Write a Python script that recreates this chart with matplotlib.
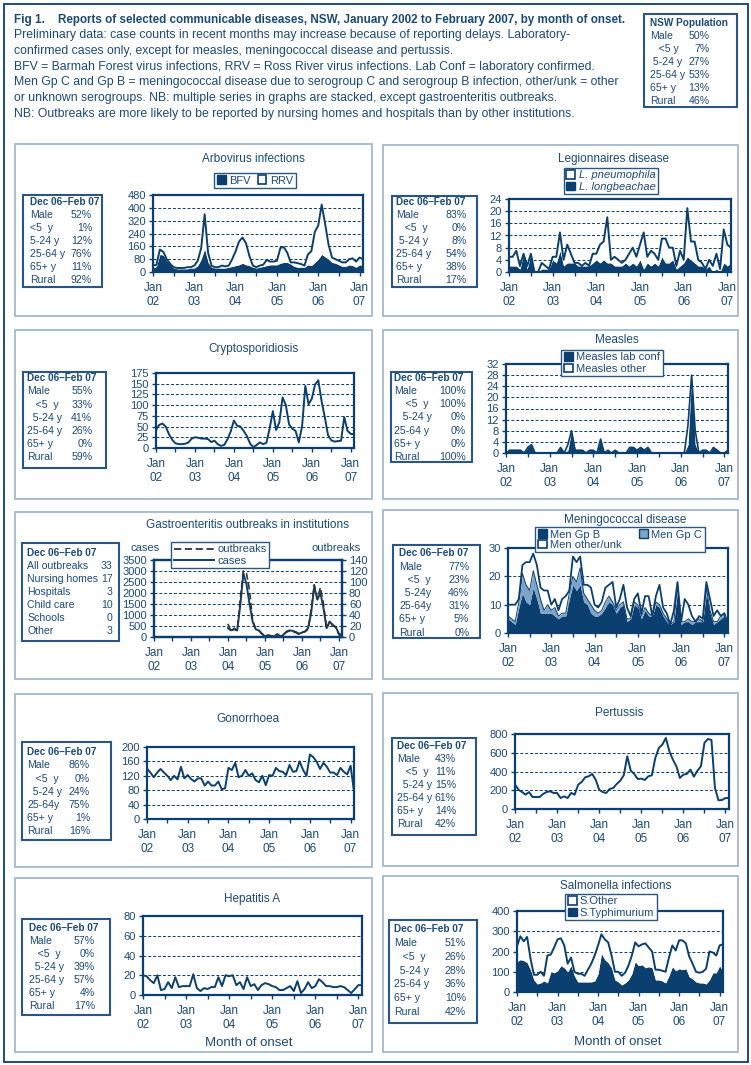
import matplotlib
matplotlib.use('Agg')
import matplotlib.pyplot as plt
import numpy as np
from matplotlib.patches import Rectangle, Patch
from matplotlib.lines import Line2D

plt.rcParams['font.family'] = ['Liberation Sans', 'DejaVu Sans']

NAVY = '#0b3f6f'
TXT = '#1c4a78'
BORDER = '#a3b8ce'
MIDBLUE = '#7da4cb'

# months Jan 2002 .. Feb 2007 (62 months)
months = np.arange(62)
years = ['02', '03', '04', '05', '06', '07']

# --- data ---
arbo_bfv = [25, 35, 110, 105, 70, 45, 25, 20, 20, 20, 20, 25, 25, 40, 80, 145, 60, 30, 25, 25,
            25, 25, 30, 35, 40, 45, 55, 45, 40, 30, 25, 30, 35, 40, 45, 45, 45, 55, 60, 60,
            50, 35, 30, 30, 30, 45, 40, 60, 80, 110, 95, 80, 60, 55, 45, 35, 35, 45, 40, 30, 45, 40]
arbo_rrv = [15, 10, 30, 20, 10, 5, 5, 5, 5, 5, 10, 5, 15, 30, 70, 215, 60, 10, 5, 5,
            15, 10, 10, 45, 90, 145, 160, 135, 60, 10, 5, 10, 10, 35, 20, 20, 25, 95, 95, 60,
            10, 25, 25, 20, 10, 65, 90, 190, 210, 310, 205, 90, 30, 25, 25, 25, 25, 35, 45, 35, 45, 40]

legio_longb = [2, 2, 2, 1, 6, 1, 6, 0, 0, 1, 1, 1, 4, 3, 7, 2, 3, 3, 3, 2,
               2, 2, 2, 3, 4, 3, 4, 3, 3, 2, 2, 2, 3, 2, 3, 2, 4, 1, 3, 2,
               3, 2, 5, 3, 3, 4, 1, 2, 3, 5, 4, 3, 2, 2, 1, 2, 0, 1, 0, 3, 2, 3]
legio_pneum = [3, 3, 5, 1, 0, 1, 0, 0, 0, 2, 1, 0, 1, 2, 6, 2, 6, 3, 0, 1,
               0, 1, 0, 3, 2, 6, 6, 15, 1, 3, 2, 1, 1, 4, 5, 3, 5, 12, 2, 5,
               3, 2, 6, 8, 5, 4, 1, 5, 1, 16, 6, 7, 2, 1, 0, 2, 2, 5, 1, 11, 7, 5]

crypto = [42, 54, 57, 50, 32, 19, 11, 9, 9, 10, 13, 22, 25, 24, 22, 22, 21, 14, 17, 9,
          5, 7, 20, 38, 64, 52, 50, 40, 28, 10, 2, 7, 13, 9, 12, 45, 86, 42, 60, 118,
          100, 55, 45, 40, 13, 50, 145, 102, 115, 148, 158, 110, 72, 30, 18, 15, 16, 17, 72, 40, 33, 32]

measles_lab = [0, 1, 1, 1, 1, 0, 2, 3, 0, 0, 0, 0, 0, 0, 0, 2, 0, 1, 8, 1,
               1, 1, 0, 1, 1, 0, 5, 0, 1, 0, 1, 0, 0, 0, 2, 2, 1, 2, 1, 2,
               0, 0, 0, 0, 0, 0, 0, 0, 0, 0, 3, 28, 3, 0, 1, 1, 0, 2, 1, 0, 0, 1]
measles_other = [0, 0, 0, 0, 0, 0, 0, 0, 0, 0, 0, 0, 0, 0, 0, 0, 0, 2, 0, 0,
                 0, 0, 0, 0, 0, 0, 0, 0, 0, 0, 0, 0, 0, 0, 0, 0, 0, 0, 0, 0,
                 0, 0, 0, 0, 0, 0, 0, 0, 0, 0, 7, 0, 5, 0, 0, 0, 0, 0, 0, 0, 0, 0]

# gastro outbreaks: Jan 04 .. Feb 07
gastro_start = 24
gastro_cases = [400, 300, 350, 300, 1450, 2900, 2400, 1500, 700, 350, 300, 150, 30, 80, 50, 30, 130, 30, 100,
                250, 300, 280, 230, 150, 200, 250, 400, 1100, 2300, 1700, 2000, 1300, 400, 700, 550, 450, 150, 80]
gastro_outbreaks = [24, 10, 16, 12, 70, 120, 116, 85, 30, 15, 12, 6, 2, 3, 2, 1, 5, 1, 4,
                    9, 11, 10, 8, 5, 8, 10, 14, 50, 95, 70, 90, 60, 15, 28, 20, 18, 4, 2]

men_b = [5, 4, 3, 9, 14, 11, 10, 16, 12, 7, 7, 7, 7, 6, 5, 6, 6, 12, 17, 15,
         17, 11, 10, 7, 6, 6, 7, 9, 11, 10, 7, 9, 10, 4, 5, 10, 9, 5, 8, 6,
         6, 10, 9, 6, 4, 3, 4, 15, 3, 4, 4, 3, 4, 4, 4, 14, 7, 3, 4, 5, 6, 2]
men_c = [1, 1, 1, 2, 7, 6, 5, 6, 5, 5, 1, 3, 1, 3, 1, 1, 1, 2, 3, 3,
         6, 3, 2, 3, 2, 1, 1, 2, 2, 1, 1, 1, 1, 1, 0, 1, 1, 1, 1, 1,
         0, 1, 1, 1, 1, 0, 0, 2, 1, 0, 1, 1, 0, 1, 0, 2, 1, 1, 0, 1, 1, 0]
men_other = [4, 5, 6, 1, 3, 8, 10, 6, 7, 4, 7, 5, 2, 3, 2, 5, 6, 1, 7, 7,
             4, 3, 5, 6, 2, 2, 3, 5, 4, 7, 1, 2, 6, 4, 1, 1, 4, 1, 4, 6,
             0, 2, 7, 2, 2, 0, 4, 1, 0, 8, 5, 2, 0, 1, 1, 2, 4, 2, 4, 0, 0, 1]

gonorrhoea = [140, 129, 116, 129, 139, 129, 120, 108, 120, 110, 145, 113, 122, 111, 104, 113, 113, 93, 104, 93,
              93, 104, 83, 85, 142, 136, 156, 116, 120, 136, 120, 127, 108, 102, 120, 94, 122, 120, 142, 133,
              131, 122, 150, 131, 133, 160, 136, 120, 179, 172, 159, 139, 156, 145, 129, 129, 122, 142, 131, 124, 148, 76]

pertussis = [260, 206, 181, 153, 181, 128, 128, 128, 160, 181, 189, 171, 171, 117, 135, 117, 171, 153, 260, 288,
             338, 349, 374, 313, 206, 181, 171, 214, 224, 267, 302, 359, 562, 409, 374, 320, 324, 310, 349, 359,
             545, 651, 687, 758, 616, 527, 456, 331, 367, 374, 420, 345, 409, 456, 705, 747, 736, 224, 93, 96, 117, 117]

hepa = [20, 19, 15, 12, 20, 5, 6, 13, 7, 18, 8, 9, 9, 9, 21, 7, 4, 7, 6, 8,
        8, 18, 9, 20, 19, 20, 10, 13, 6, 18, 9, 11, 5, 10, 12, 11, 9, 8, 5, 5,
        7, 9, 4, 14, 2, 6, 13, 7, 9, 16, 13, 9, 9, 8, 8, 9, 8, 5, 2, 6, 10, 10]

salm_typh = [150, 160, 155, 145, 110, 60, 40, 45, 55, 45, 100, 95, 105, 130, 120, 100, 130, 80, 50, 50,
             50, 50, 50, 55, 90, 190, 160, 145, 120, 60, 50, 35, 45, 60, 90, 150, 130, 135, 120, 125,
             120, 60, 60, 55, 45, 80, 125, 105, 115, 110, 115, 75, 65, 50, 45, 45, 40, 60, 95, 95, 130, 100]
salm_other = [77, 115, 95, 127, 55, 25, 45, 55, 25, 135, 85, 125, 155, 135, 110, 40, 40, 20, 40, 40,
              30, 60, 90, 125, 140, 95, 100, 100, 60, 40, 50, 45, 50, 70, 90, 95, 95, 100, 120, 95,
              80, 50, 50, 50, 55, 90, 105, 100, 140, 145, 125, 100, 75, 50, 50, 55, 75, 140, 100, 85, 100, 135]

age_labels = ['Male', '   <5  y', '  5-24 y', '25-64 y', '65+ y', 'Rural']
stats_arbo = ['52%', '1%', '12%', '76%', '11%', '92%']
stats_legio = ['83%', '0%', '8%', '54%', '38%', '17%']
stats_crypto = ['55%', '33%', '41%', '26%', '0%', '59%']
stats_measles = ['100%', '100%', '0%', '0%', '0%', '100%']
gastro_labels = ['All outbreaks', 'Nursing homes', 'Hospitals', 'Child care', 'Schools', 'Other']
stats_gastro = ['33', '17', '3', '10', '0', '3']
stats_men = ['77%', '23%', '46%', '31%', '5%', '0%']
stats_gono = ['86%', '0%', '24%', '75%', '1%', '16%']
stats_pert = ['43%', '11%', '15%', '61%', '14%', '42%']
stats_hepa = ['57%', '0%', '39%', '57%', '4%', '17%']
stats_salm = ['51%', '26%', '28%', '36%', '10%', '42%']
nsw_pop = ['50%', '7%', '27%', '53%', '13%', '46%']

header_lines = [
    'Preliminary data: case counts in recent months may increase because of reporting delays. Laboratory-',
    'confirmed cases only, except for measles, meningococcal disease and pertussis.',
    'BFV = Barmah Forest virus infections, RRV = Ross River virus infections. Lab Conf = laboratory confirmed.',
    'Men Gp C and Gp B = meningococcal disease due to serogroup C and serogroup B infection, other/unk = other',
    'or unknown serogroups. NB: multiple series in graphs are stacked, except gastroenteritis outbreaks.',
    'NB: Outbreaks are more likely to be reported by nursing homes and hospitals than by other institutions.',
]

W, H = 751, 1065
fig = plt.figure(figsize=(W / 100, H / 100), dpi=100)


def fx(x):
    return x / W


def fy(y):
    return 1 - y / H


def rect(l, t, r, b, ec, lw):
    fig.add_artist(Rectangle((fx(l), fy(b)), (r - l) / W, (b - t) / H, transform=fig.transFigure,
                             fill=False, ec=ec, lw=lw))


def make_ax(l, t, r, b, ymax, ystep):
    ax = fig.add_axes([fx(l), fy(b), (r - l) / W, (b - t) / H])
    ax.set_xlim(0, 61)
    ax.set_ylim(0, ymax)
    ax.set_yticks(np.arange(0, ymax + ystep / 2, ystep))
    ticks = list(range(0, 61, 6))
    ax.set_xticks(ticks)
    ax.set_xticklabels(['Jan\n' + years[k // 12] if k % 12 == 0 else '' for k in ticks])
    for lab in ax.get_xticklabels():
        lab.set_linespacing(1.25)
    ax.tick_params(colors=NAVY, labelcolor=TXT, direction='out', length=3, width=1)
    ax.tick_params(axis='x', pad=4, labelsize=8.5)
    ax.tick_params(axis='y', pad=2, labelsize=8)
    for s in ax.spines.values():
        s.set_color(NAVY)
        s.set_linewidth(1.6)
    ax.grid(axis='y', linestyle=(0, (3, 2)), color=NAVY, lw=0.7)
    ax.set_axisbelow(True)
    return ax


def title(cx, cy, s):
    fig.text(fx(cx), fy(cy), s, ha='center', va='center', fontsize=8.5, color=TXT)


def stats_box(l, t, r, b, ty, step, lx, vx, labels, values, head='Dec 06\u2013Feb 07'):
    rect(l, t, r, b, '#2b5583', 1.5)
    fig.text(fx(lx), fy(ty), head, ha='left', va='center', fontsize=7.2, fontweight='bold', color=TXT)
    for k in range(len(labels)):
        y = ty + step * (k + 1)
        fig.text(fx(lx), fy(y), labels[k], ha='left', va='center', fontsize=7.6, color=TXT)
        fig.text(fx(vx), fy(y), values[k], ha='right', va='center', fontsize=7.6, color=TXT)


def legend(handles, labels, cx, cy, ncol=1, **kw):
    opts = dict(loc='center', bbox_to_anchor=(fx(cx), fy(cy)), ncol=ncol, frameon=True, fancybox=False,
                framealpha=1, edgecolor='#2b5583', fontsize=8, borderpad=0.25, handlelength=0.8,
                handleheight=0.8, handletextpad=0.3, labelspacing=0.1, columnspacing=0.8, labelcolor=TXT)
    opts.update(kw)
    leg = fig.legend(handles, labels, **opts)
    leg.get_frame().set_linewidth(1.0)
    return leg


dark_patch = Patch(facecolor=NAVY, edgecolor=NAVY)
white_patch = Patch(facecolor='white', edgecolor=NAVY, lw=1.2)

# outer frame and panel frames
rect(4, 4, 748, 1062, NAVY, 1.3)
panels = [(15, 144, 372, 316), (383, 145, 738, 316),
          (15, 330, 372, 499), (383, 330, 738, 499),
          (15, 512, 372, 679), (383, 510, 738, 679),
          (15, 694, 372, 867), (383, 693, 738, 866),
          (15, 878, 372, 1052), (383, 876, 738, 1052)]
for p in panels:
    rect(*p, BORDER, 1.3)

# header
fig.text(fx(14), fy(20), 'Fig 1.', ha='left', va='center', fontsize=8.5, fontweight='bold', color=TXT)
fig.text(fx(58), fy(20), 'Reports of selected communicable diseases, NSW, January 2002 to February 2007, by month of onset.',
         ha='left', va='center', fontsize=8.4, fontweight='bold', color=TXT)
for k, line in enumerate(header_lines):
    fig.text(fx(14), fy(35 + 15.8 * k), line, ha='left', va='center', fontsize=8.85, color=TXT)
stats_box(643.5, 14, 737, 107, 23, 13, 650, 709.5,
          ['Male', '   <5 y', ' 5-24 y', '25-64 y', '65+ y', 'Rural'], nsw_pop, head='NSW Population')

# Arbovirus
ax = make_ax(153, 195, 363, 272, 480, 80)
top = np.add(arbo_bfv, arbo_rrv)
ax.fill_between(months, 0, arbo_bfv, color=NAVY, lw=0)
ax.fill_between(months, arbo_bfv, top, color='white', lw=0)
ax.plot(months, top, color=NAVY, lw=1.4)
title(253, 159, 'Arbovirus infections')
legend([dark_patch, white_patch], ['BFV', 'RRV'], 255, 180.5, ncol=2, columnspacing=0.6)
stats_box(23, 195, 102, 287, 201.7, 13.1, 30, 92, ['Male', '<5  y', '5-24 y', '25-64 y', '65+ y', 'Rural'], stats_arbo)

# Legionnaires
ax = make_ax(509, 199, 731, 272, 24, 4)
top = np.add(legio_longb, legio_pneum)
ax.fill_between(months, 0, legio_longb, color=NAVY, lw=0)
ax.fill_between(months, legio_longb, top, color='white', lw=0)
ax.plot(months, top, color=NAVY, lw=1.4)
title(613, 159, 'Legionnaires disease')
legend([white_patch, dark_patch], ['L. pneumophila', 'L. longbeachae'], 611, 181, prop={'style': 'italic', 'size': 8})
stats_box(392, 196, 477, 287, 201.7, 13.1, 395.7, 466.7,
          ['Male', '   <5  y', ' 5-24 y', '25-64 y', '65+ y', 'Rural'], stats_legio)

# Cryptosporidiosis
ax = make_ax(156, 373, 354, 448, 175, 25)
ax.plot(months, crypto, color=NAVY, lw=1.4)
title(253, 349, 'Cryptosporidiosis')
stats_box(23, 372, 106, 468, 378.3, 13.2, 27.3, 92.3, age_labels, stats_crypto)

# Measles
ax = make_ax(506, 364, 728, 453, 32, 4)
top = np.add(measles_lab, measles_other)
ax.fill_between(months, 0, measles_lab, color=NAVY, lw=0)
ax.fill_between(months, measles_lab, top, color='white', lw=0)
ax.plot(months, top, color=NAVY, lw=1.2)
title(617, 340, 'Measles')
legend([dark_patch, white_patch], ['Measles lab conf', 'Measles other'], 612, 363)
stats_box(391, 372, 472, 462, 377.7, 13.2, 394.3, 465.7,
          ['Male', '    <5  y', '   5-24 y', '25-64 y', '65+ y', 'Rural'], stats_measles)

# Gastroenteritis outbreaks
ax = make_ax(154, 560, 342, 637, 3500, 500)
gx = months[gastro_start:]
ax.plot(gx, gastro_cases, color=NAVY, lw=1.4)
ax2 = ax.twinx()
ax2.set_ylim(0, 140)
ax2.set_yticks(np.arange(0, 141, 20))
ax2.tick_params(colors=NAVY, labelcolor=TXT, direction='out', length=3, width=1, pad=2, labelsize=8)
for s in ax2.spines.values():
    s.set_color(NAVY)
    s.set_linewidth(1.6)
ax2.plot(gx, gastro_outbreaks, color='#333333', lw=1.2, ls=(0, (4, 2)))
title(247, 525, 'Gastroenteritis outbreaks in institutions')
fig.text(fx(145), fy(548), 'cases', ha='center', va='center', fontsize=8, color=TXT)
fig.text(fx(336), fy(548), 'outbreaks', ha='center', va='center', fontsize=8, color=TXT)
legend([Line2D([], [], color='#333333', lw=1.3, ls=(0, (4, 2))), Line2D([], [], color=NAVY, lw=1.4)],
       ['outbreaks', 'cases'], 220, 555, handlelength=3.6, handleheight=0.6)
stats_box(22, 543, 119, 641, 552.7, 13.06, 27.3, 112.7, gastro_labels, stats_gastro)

# Meningococcal
ax = make_ax(508, 548, 728, 633, 30, 10)
bc = np.add(men_b, men_c)
top = bc + np.array(men_other)
ax.fill_between(months, 0, men_b, color=NAVY, lw=0)
ax.fill_between(months, men_b, bc, color=MIDBLUE, lw=0)
ax.plot(months, bc, color=NAVY, lw=0.7)
ax.fill_between(months, bc, top, color='white', lw=0)
ax.plot(months, top, color=NAVY, lw=1.3)
title(625, 520, 'Meningococcal disease')
legend([dark_patch, white_patch, Patch(facecolor=MIDBLUE, edgecolor=NAVY, lw=1.0)],
       ['Men Gp B', 'Men other/unk', 'Men Gp C'], 620, 539.5, ncol=2, columnspacing=1.6, labelspacing=0.0)
stats_box(393, 545, 480, 638, 553.3, 13.2, 399.3, 469.3,
          ['Male', '   <5  y', '  5-24y', '25-64y', '65+ y', 'Rural'], stats_men)

# Gonorrhoea
ax = make_ax(147, 747, 354, 819, 200, 40)
ax.plot(months, gonorrhoea, color=NAVY, lw=1.4)
title(248, 719, 'Gonorrhoea')
stats_box(22, 742, 111, 840, 752.3, 13.1, 27.3, 90,
          ['Male', '   <5  y', '  5-24 y', '25-64y', '65+ y', 'Rural'], stats_gono)

# Pertussis
ax = make_ax(515, 734, 729, 809, 800, 200)
ax.plot(months, pertussis, color=NAVY, lw=1.4)
title(619, 713, 'Pertussis')
stats_box(392, 738, 476, 835, 745.7, 13.1, 396.7, 456, age_labels, stats_pert)

# Hepatitis A
ax = make_ax(143, 916, 362, 995, 80, 20)
ax.plot(months, hepa, color=NAVY, lw=1.4)
title(252, 899, 'Hepatitis A')
fig.text(fx(249), fy(1043), 'Month of onset', ha='center', va='center', fontsize=9.5, color=TXT)
stats_box(22, 919, 110, 1015, 927.7, 13.05, 29.3, 95, age_labels, stats_hepa)

# Salmonella
ax = make_ax(517, 911, 723, 992, 400, 100)
top = np.add(salm_typh, salm_other)
ax.fill_between(months, 0, salm_typh, color=NAVY, lw=0)
ax.fill_between(months, salm_typh, top, color='white', lw=0)
ax.plot(months, top, color=NAVY, lw=1.4)
title(616, 886, 'Salmonella infections')
legend([white_patch, dark_patch], ['S.Other', 'S.Typhimurium'], 611, 907)
fig.text(fx(618), fy(1042), 'Month of onset', ha='center', va='center', fontsize=9.5, color=TXT)
stats_box(389, 920, 477, 1023, 929, 13.85, 394, 466, age_labels, stats_salm)

fig.savefig('out.png', dpi=100)
